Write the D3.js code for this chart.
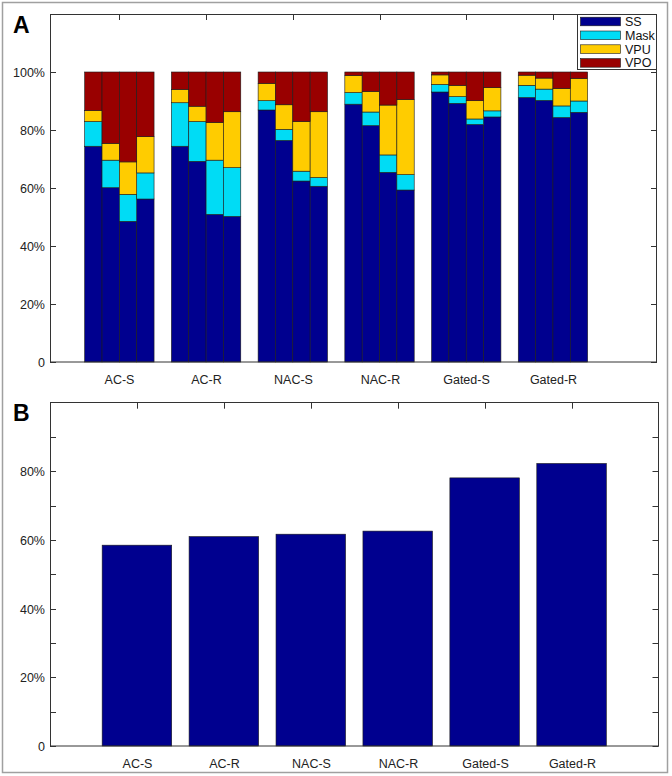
<!DOCTYPE html>
<html>
<head>
<meta charset="utf-8">
<script src="https://cdn.jsdelivr.net/npm/d3@7"></script>
<style>
  body { margin: 0; background: #fff; }
  svg { display: block; font-family: Arial, "Liberation Sans", sans-serif; }
</style>
</head>
<body>
<svg id="chart" width="672" height="776"></svg>
<script>
// categories
var groups = ["AC-S", "AC-R", "NAC-S", "NAC-R", "Gated-S", "Gated-R"];
var seriesNames = ["SS", "Mask", "VPU", "VPO"];
var colors = ["#00008f", "#00dcf5", "#ffcc00", "#990000"];

// panel A: 4 bars per group, percent of each segment
var ss   = [74.4, 60.1, 48.5, 56.2,  74.4, 69.2, 50.9, 50.2,  86.9, 76.4, 62.4, 60.6,
            88.9, 81.5, 65.4, 59.3,  93.1, 89.2, 81.9, 84.5,  91.2, 90.2, 84.3, 86.1];
var mask = [8.5, 9.5, 9.3, 9.0,      15.0, 13.7, 18.7, 16.8,  3.2, 3.8, 3.4, 3.0,
            4.0, 4.7, 6.0, 5.3,      2.6, 2.3, 1.9, 2.1,      4.2, 3.9, 4.0, 3.9];
var vpu  = [3.8, 5.8, 11.2, 12.5,    4.6, 5.3, 13.0, 19.3,    6.0, 8.5, 17.1, 22.7,
            5.9, 7.1, 17.2, 25.9,    3.3, 3.9, 6.3, 8.0,      3.5, 3.8, 6.0, 7.8];
var vpo  = [13.3, 24.6, 31.0, 22.3,  6.0, 11.8, 17.4, 13.7,   3.9, 11.3, 17.1, 13.7,
            1.2, 6.7, 11.4, 9.5,     1.0, 4.6, 9.9, 5.4,      1.1, 2.1, 5.7, 2.2];

// panel B
var totals = [58.5, 61.0, 61.7, 62.6, 78.1, 82.3];

var ticksA = [0, 20, 40, 60, 80, 100];
var ticksB = [0, 10, 20, 30, 40, 50, 60, 70, 80, 90];

var svg = d3.select("#chart");
var axisColor = "#333";

// outer frame
svg.append("rect")
    .attr("x", 2.5).attr("y", 2.5)
    .attr("width", 665).attr("height", 770)
    .attr("fill", "none").attr("stroke", "#a0a0a0").attr("stroke-width", 1.5);

function pctLabel(d) { return d === 0 ? "0" : d + "%"; }

// draws inward ticks on all four sides, labels left/bottom
function drawFrame(g, x, y, yTicks, yLabelEvery, xTicks) {
    var x0 = x.range()[0], x1 = x.range()[1];
    var y0 = y.range()[0], y1 = y.range()[1];
    var tl = 6;

    yTicks.forEach(function(t) {
        var yy = Math.round(y(t)) + 0.5;
        g.append("line").attr("x1", x0).attr("x2", x0 + tl).attr("y1", yy).attr("y2", yy)
            .attr("stroke", axisColor);
        g.append("line").attr("x1", x1).attr("x2", x1 - tl).attr("y1", yy).attr("y2", yy)
            .attr("stroke", axisColor);
        if (t % yLabelEvery === 0) {
            g.append("text").attr("x", x0 - 5).attr("y", yy + 4.5)
                .attr("text-anchor", "end").attr("font-size", 12.5).attr("fill", "#222")
                .text(pctLabel(t));
        }
    });
    xTicks.forEach(function(t, i) {
        var xx = Math.round(x(t)) + 0.5;
        g.append("line").attr("x1", xx).attr("x2", xx).attr("y1", y1).attr("y2", y1 + tl)
            .attr("stroke", axisColor);
        g.append("text").attr("x", xx).attr("y", y0 + 22)
            .attr("text-anchor", "middle").attr("font-size", 12.5).attr("fill", "#222")
            .text(groups[i]);
    });
}

// ---------- panel A ----------
var xA = d3.scaleLinear().domain([0.2, 7.2]).range([50, 657]);
var yA = d3.scaleLinear().domain([0, 120]).range([362, 14]);

var rowsA = ss.map(function(v, i) {
    return { group: Math.floor(i / 4), sub: i % 4, SS: v, Mask: mask[i], VPU: vpu[i], VPO: vpo[i] };
});
var stackA = d3.stack().keys(seriesNames)(rowsA);
var subW = 0.2;

var gA = svg.append("g");
gA.selectAll("g.layer")
    .data(stackA)
    .join("g")
    .attr("class", "layer")
    .attr("fill", function(d, i) { return colors[i]; })
    .selectAll("rect")
    .data(function(d) { return d; })
    .join("rect")
    .attr("x", function(d) { return xA(d.data.group + 1 - 0.4 + d.data.sub * subW); })
    .attr("width", function() { return xA(subW) - xA(0); })
    .attr("y", function(d) { return yA(d[1]); })
    .attr("height", function(d) { return yA(d[0]) - yA(d[1]); })
    .attr("stroke", "#1a1a1a")
    .attr("stroke-width", 0.6);

gA.append("rect")
    .attr("x", 50.5).attr("y", 14.5).attr("width", 606).attr("height", 347.5)
    .attr("fill", "none").attr("stroke", axisColor).attr("stroke-width", 1);

drawFrame(gA, xA, yA, ticksA, 20, d3.range(1, 7));

// legend
var leg = gA.append("g");
leg.append("rect")
    .attr("x", 577.5).attr("y", 14.5).attr("width", 79).attr("height", 55)
    .attr("fill", "#fff").attr("stroke", axisColor);
seriesNames.forEach(function(name, i) {
    var cy = 21.5 + i * 13.8;
    leg.append("rect")
        .attr("x", 580.5).attr("y", cy - 4.3).attr("width", 40).attr("height", 8.6)
        .attr("fill", colors[i]).attr("stroke", "#1a1a1a").attr("stroke-width", 0.6);
    leg.append("text")
        .attr("x", 625).attr("y", cy + 4.5)
        .attr("font-size", 12.5).attr("fill", "#111")
        .text(name);
});

svg.append("text").attr("x", 13).attr("y", 33)
    .attr("font-size", 23).attr("font-weight", "bold").text("A");

// ---------- panel B ----------
var xB = d3.scaleLinear().domain([0, 7]).range([50, 658.5]);
var yB = d3.scaleLinear().domain([0, 100]).range([746, 402.7]);

var gB = svg.append("g");
gB.selectAll("rect.bar")
    .data(totals)
    .join("rect")
    .attr("class", "bar")
    .attr("x", function(d, i) { return xB(i + 1 - 0.4); })
    .attr("width", xB(0.8) - xB(0))
    .attr("y", function(d) { return yB(d); })
    .attr("height", function(d) { return yB(0) - yB(d); })
    .attr("fill", colors[0])
    .attr("stroke", "#1a1a1a")
    .attr("stroke-width", 0.6);

gB.append("rect")
    .attr("x", 50.5).attr("y", 402.5).attr("width", 608).attr("height", 343.5)
    .attr("fill", "none").attr("stroke", axisColor).attr("stroke-width", 1);

drawFrame(gB, xB, yB, ticksB, 20, d3.range(1, 7));

svg.append("text").attr("x", 13).attr("y", 421)
    .attr("font-size", 23).attr("font-weight", "bold").text("B");
</script>
</body>
</html>
